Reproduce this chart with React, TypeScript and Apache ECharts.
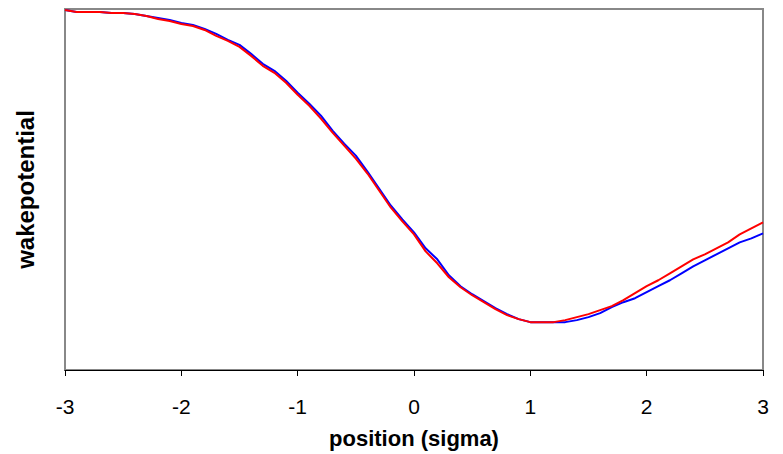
import React, { useEffect, useRef } from "react";
import * as echarts from "echarts";

const positions: number[] = [
  -3.0, -2.9, -2.8, -2.7, -2.6, -2.5, -2.4, -2.3, -2.2, -2.1,
  -2.0, -1.9, -1.8, -1.7, -1.6, -1.5, -1.4, -1.3, -1.2, -1.1,
  -1.0, -0.9, -0.8, -0.7, -0.6, -0.5, -0.4, -0.3, -0.2, -0.1,
  0.0, 0.1, 0.2, 0.3, 0.4, 0.5, 0.6, 0.7, 0.8, 0.9,
  1.0, 1.1, 1.2, 1.3, 1.4, 1.5, 1.6, 1.7, 1.8, 1.9,
  2.0, 2.1, 2.2, 2.3, 2.4, 2.5, 2.6, 2.7, 2.8, 2.9, 3.0,
];

const redWake: number[] = [
  361, 359, 359, 359, 358, 358, 357, 355, 352, 350,
  347, 345, 341, 335, 330, 324, 315, 305, 298, 288,
  276, 265, 252, 238, 225, 212, 197, 180, 163, 149,
  136, 119, 107, 93, 83, 75, 68, 61, 55, 51,
  48, 48, 48, 50, 53, 56, 60, 64, 70, 77,
  84, 90, 97, 104, 111, 116, 122, 128, 136, 142, 148,
];

const blueWake: number[] = [
  361, 359, 359, 359, 358, 358, 357, 355, 353, 351,
  348, 346, 342, 337, 331, 326, 317, 307, 300, 290,
  278, 267, 255, 240, 227, 215, 199, 182, 165, 151,
  138, 122, 111, 95, 84, 76, 69, 62, 56, 51,
  48, 48, 48, 48, 50, 53, 57, 63, 68, 72,
  78, 84, 90, 97, 104, 110, 116, 122, 128, 132, 137,
];

const xTicks: number[] = [-3, -2, -1, 0, 1, 2, 3];

export default function App() {
  const ref = useRef<HTMLDivElement>(null);
  useEffect(() => {
    if (!ref.current) return;
    const chart = echarts.init(ref.current, undefined, { renderer: "svg" });
    const font = "'Liberation Sans', Arial, sans-serif";
    chart.setOption({
      animation: false,
      backgroundColor: "#ffffff",
      grid: {
        left: 65,
        right: 20,
        top: 9,
        bottom: 83,
        show: true,
        borderColor: "#888888",
        borderWidth: 2,
        containLabel: false,
      },
      xAxis: {
        type: "value",
        min: xTicks[0],
        max: xTicks[xTicks.length - 1],
        interval: 1,
        name: "position (sigma)",
        nameLocation: "middle",
        nameGap: 57,
        nameTextStyle: { fontFamily: font, fontWeight: "bold", fontSize: 22, color: "#000" },
        axisLine: { show: true, onZero: false, lineStyle: { color: "#000", width: 1 } },
        axisTick: { show: true, inside: false, length: 6, lineStyle: { color: "#000" } },
        axisLabel: { fontFamily: font, fontSize: 21, color: "#000", margin: 26 },
        splitLine: { show: false },
      },
      yAxis: {
        type: "value",
        min: 0,
        max: 362,
        name: "wakepotential",
        nameLocation: "middle",
        nameGap: 28,
        nameTextStyle: { fontFamily: font, fontWeight: "bold", fontSize: 24, color: "#000" },
        axisLine: { show: false },
        axisTick: { show: false },
        axisLabel: { show: false },
        splitLine: { show: false },
      },
      series: [
        {
          type: "line",
          name: "blue",
          data: positions.map((x, i) => [x, blueWake[i]]),
          showSymbol: false,
          lineStyle: { color: "#0000ff", width: 2 },
          z: 2,
        },
        {
          type: "line",
          name: "red",
          data: positions.map((x, i) => [x, redWake[i]]),
          showSymbol: false,
          lineStyle: { color: "#ff0000", width: 2 },
          z: 3,
        },
      ],
    });
    return () => chart.dispose();
  }, []);
  return <div ref={ref} style={{ width: 783, height: 454, position: "absolute", left: 0, top: 0 }} />;
}
